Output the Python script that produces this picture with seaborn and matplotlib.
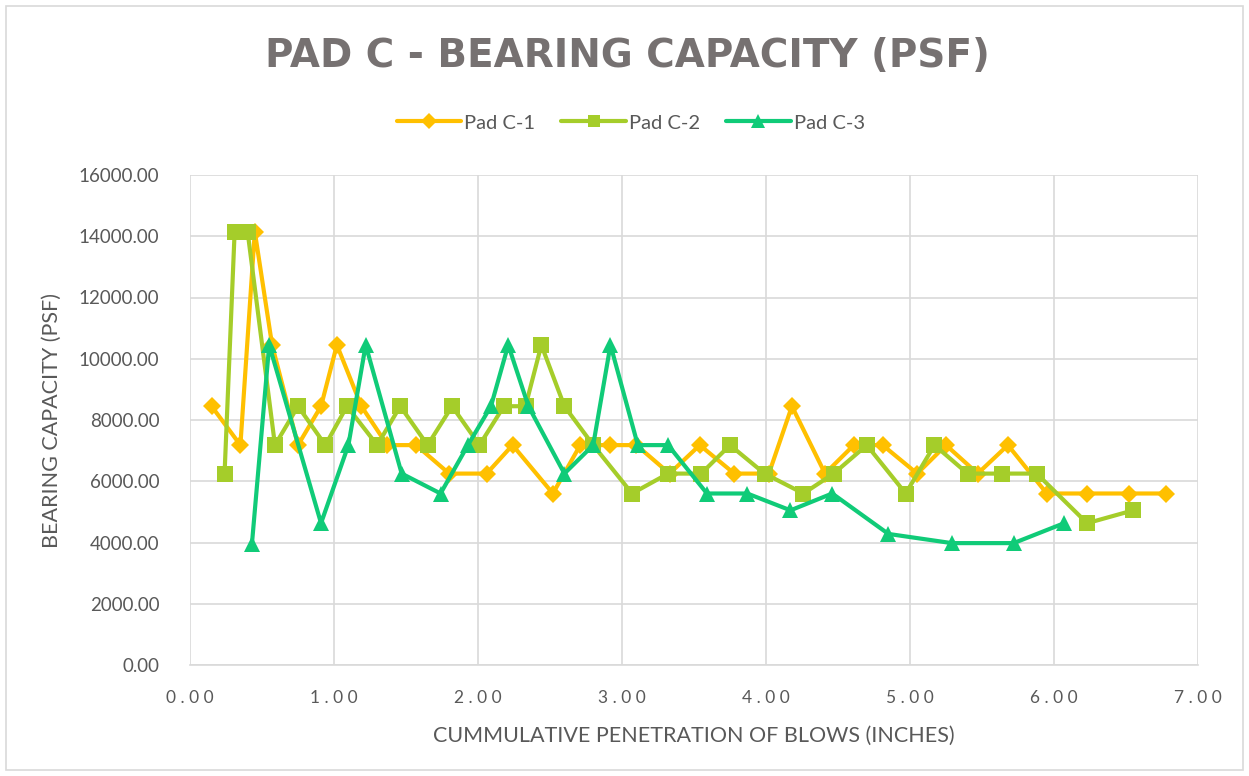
import matplotlib
matplotlib.use("Agg")
import matplotlib.pyplot as plt
import seaborn as sns
import pandas as pd
from matplotlib.lines import Line2D
from matplotlib.patches import Rectangle
from matplotlib.ticker import FuncFormatter, MultipleLocator

# ---- data ----
c1_x = [0.15, 0.35, 0.45, 0.57, 0.75, 0.91, 1.02, 1.19, 1.37, 1.57, 1.80, 2.06, 2.24, 2.52, 2.71, 2.92,
        3.10, 3.33, 3.54, 3.78, 4.02, 4.18, 4.41, 4.61, 4.81, 5.05, 5.25, 5.47, 5.68, 5.95, 6.23, 6.52, 6.78]
c1_y = [8450, 7180, 14150, 10450, 7180, 8450, 10450, 8450, 7180, 7180, 6250, 6250, 7180, 5600, 7180, 7180,
        7180, 6250, 7180, 6250, 6250, 8450, 6250, 7180, 7180, 6250, 7180, 6250, 7180, 5600, 5600, 5600, 5600]

c2_x = [0.24, 0.31, 0.40, 0.59, 0.75, 0.94, 1.09, 1.30, 1.46, 1.65, 1.82, 2.01, 2.18, 2.33, 2.44, 2.60,
        2.80, 3.07, 3.32, 3.55, 3.75, 3.99, 4.26, 4.47, 4.70, 4.97, 5.17, 5.40, 5.64, 5.88, 6.23, 6.55]
c2_y = [6250, 14150, 14150, 7180, 8450, 7180, 8450, 7180, 8450, 7180, 8450, 7180, 8450, 8450, 10450, 8450,
        7180, 5600, 6250, 6250, 7180, 6250, 5600, 6250, 7180, 5600, 7180, 6250, 6250, 6250, 4630, 5050]

c3_x = [0.43, 0.55, 0.91, 1.10, 1.22, 1.47, 1.74, 1.93, 2.09, 2.21, 2.35, 2.60, 2.80, 2.92, 3.11, 3.32,
        3.59, 3.87, 4.17, 4.46, 4.85, 5.29, 5.72, 6.07]
c3_y = [3950, 10450, 4630, 7180, 10450, 6250, 5600, 7180, 8450, 10450, 8450, 6250, 7180, 10450, 7180, 7180,
        5600, 5600, 5050, 5600, 4280, 3980, 3980, 4630]

series_names = ["Pad C-1", "Pad C-2", "Pad C-3"]
title_text = "PAD C - BEARING CAPACITY (PSF)"
x_label = "CUMMULATIVE PENETRATION OF BLOWS (INCHES)"
y_label = "BEARING CAPACITY (PSF)"

colors = {"Pad C-1": "#FFC000", "Pad C-2": "#A5CD2A", "Pad C-3": "#10CB78"}
markers = {"Pad C-1": "D", "Pad C-2": "s", "Pad C-3": "^"}
msizes = {"Pad C-1": 9, "Pad C-2": 11, "Pad C-3": 12}

df = pd.concat([
    pd.DataFrame({"x": c1_x, "y": c1_y, "series": series_names[0]}),
    pd.DataFrame({"x": c2_x, "y": c2_y, "series": series_names[1]}),
    pd.DataFrame({"x": c3_x, "y": c3_y, "series": series_names[2]}),
], ignore_index=True)

sns.set_theme(style="white")
plt.rcParams["font.family"] = ["Lato", "DejaVu Sans"]

fig = plt.figure(figsize=(12.49, 7.76), dpi=100)
ax = fig.add_axes([190 / 1249, 1 - 665 / 776, (1198 - 190) / 1249, (665 - 175) / 776])

for name in series_names:
    sub = df[df["series"] == name]
    sns.lineplot(data=sub, x="x", y="y", ax=ax, color=colors[name], marker=markers[name],
                 markersize=msizes[name], markeredgewidth=0, linewidth=3, sort=False,
                 estimator=None, legend=False)

ax.set_xlim(0, 7)
ax.set_ylim(0, 16000)
ax.xaxis.set_major_locator(MultipleLocator(1))
ax.yaxis.set_major_locator(MultipleLocator(2000))
ax.xaxis.set_major_formatter(FuncFormatter(lambda v, p: " ".join(f"{v:.2f}")))
ax.yaxis.set_major_formatter(FuncFormatter(lambda v, p: f"{v:.2f}"))
ax.grid(True, color="#D9D9D9", linewidth=1.2)
ax.set_axisbelow(True)
for s in ["top", "right", "left"]:
    ax.spines[s].set_visible(False)
ax.spines["bottom"].set_color("#D9D9D9")
ax.spines["bottom"].set_linewidth(1.2)
ax.tick_params(axis="x", length=0, colors="#595959", labelsize=12.5, pad=18)
ax.tick_params(axis="y", length=0, colors="#595959", labelsize=13.5, pad=22)

ax.set_xlabel(x_label, color="#595959", fontsize=15.5, labelpad=14)
ax.set_ylabel(y_label, color="#595959", fontsize=15.5, labelpad=12)

fig.text(0.502, 1 - 56 / 776, title_text, ha="center", va="center", fontsize=28,
         fontweight="bold", color="#767171", family=["DejaVu Sans"])

handles = [Line2D([0], [0], color=colors[n], marker=markers[n], markersize=msizes[n] * 0.85,
                  markeredgewidth=0, linewidth=3) for n in series_names]
leg = fig.legend(handles, series_names, loc="center", bbox_to_anchor=(0.505, 1 - 123 / 776),
                 ncol=3, frameon=False, fontsize=14.5, handlelength=3.2, handletextpad=0.15,
                 columnspacing=1.3)
for t in leg.get_texts():
    t.set_color("#595959")

fig.patches.append(Rectangle((6 / 1249, 6 / 776), 1237 / 1249, 764 / 776, transform=fig.transFigure,
                             fill=False, edgecolor="#D9D9D9", linewidth=1.2))

fig.savefig("out.png", dpi=100, facecolor="white")
